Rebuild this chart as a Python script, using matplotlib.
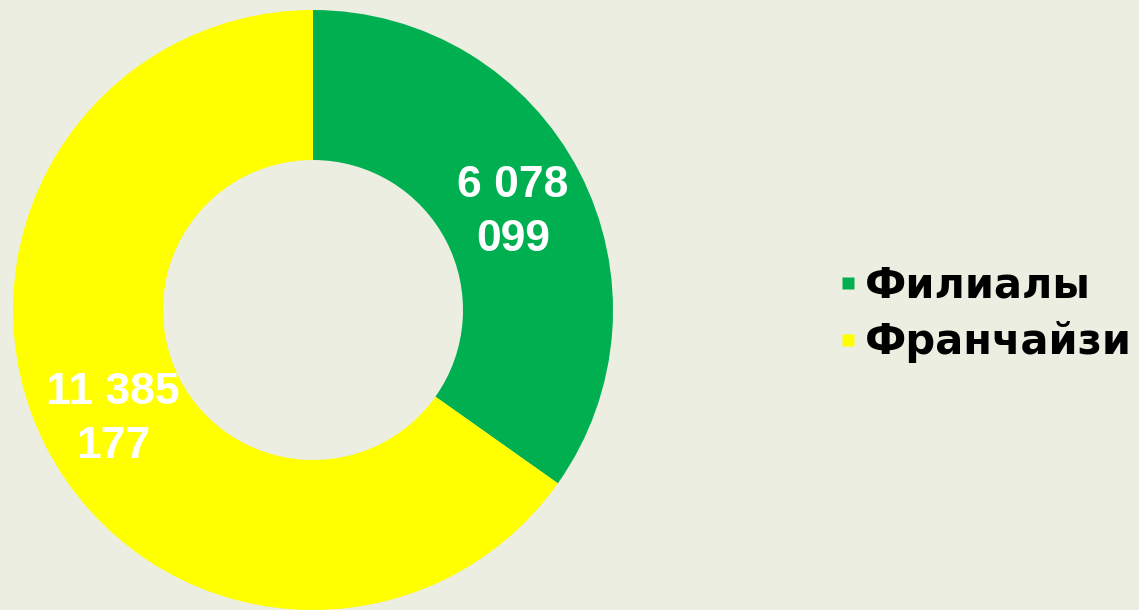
import matplotlib.pyplot as plt
from matplotlib.lines import Line2D
import numpy as np

categories = ['Филиалы', 'Франчайзи']
values = [6078099, 11385177]
colors = ['#00B050', '#FFFF00']
bg = '#EBEEE0'

plt.rcParams['font.family'] = ['Liberation Sans', 'DejaVu Sans']


def fmt(v):
    s = f'{v:,}'.replace(',', ' ')
    head, tail = s.rsplit(' ', 1)
    return head + '\n' + tail


fig = plt.figure(figsize=(11.39, 6.10), dpi=100, facecolor=bg)
ax = fig.add_axes([13 / 1139, 0, 600 / 1139, 600 / 610])
ax.set_facecolor(bg)

wedges, texts = ax.pie(values, colors=colors, startangle=90, counterclock=False,
                       radius=1.0, wedgeprops=dict(width=0.5, edgecolor='none'))

# data labels at wedge middles
total = sum(values)
start = 90.0
for v in values:
    span = 360.0 * v / total
    mid = np.deg2rad(start - span / 2)
    ax.text(0.75 * np.cos(mid), 0.75 * np.sin(mid) - 0.02, fmt(v), ha='center', va='center',
            color='white', fontsize=32, fontweight='bold', linespacing=1.4)
    start -= span

ax.set_xlim(-1, 1)
ax.set_ylim(-1, 1)
ax.set_aspect('equal')
ax.axis('off')

handles = [Line2D([], [], marker='s', linestyle='none', markersize=9,
                  markerfacecolor=c, markeredgecolor='none') for c in colors]
fig.legend(handles, categories, loc='center left', bbox_to_anchor=(794 / 1139, 1 - 314 / 610),
           frameon=False, handletextpad=0.0, handlelength=0.8, labelspacing=0.35,
           prop=dict(family='DejaVu Sans', size=30, weight='bold'))

fig.savefig('out.png', dpi=100, facecolor=bg)
